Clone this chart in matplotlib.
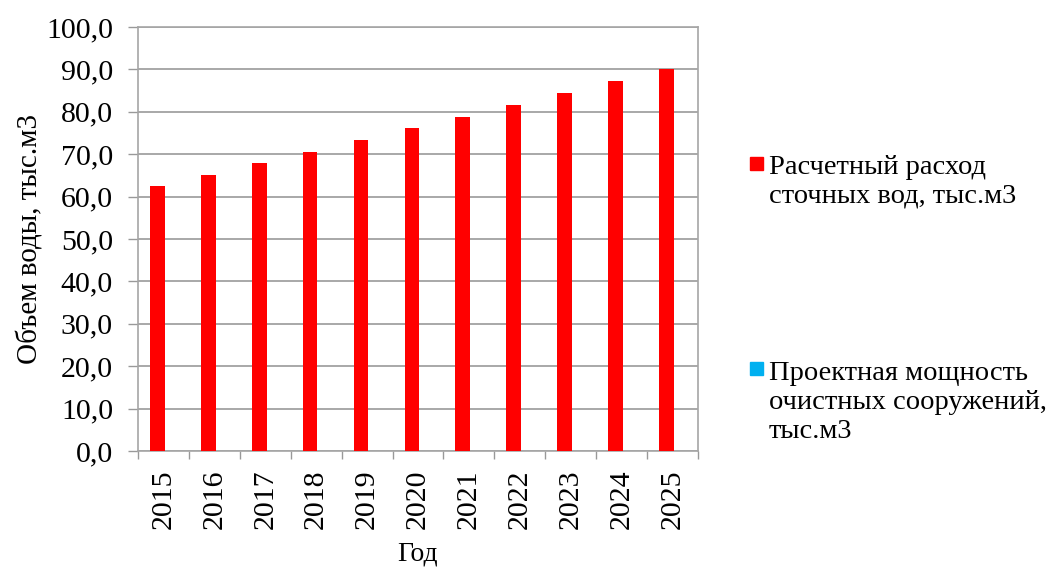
import matplotlib.pyplot as plt
from matplotlib.patches import Rectangle

years = ["2015", "2016", "2017", "2018", "2019", "2020",
         "2021", "2022", "2023", "2024", "2025"]
flow = [62.4, 65.2, 67.9, 70.6, 73.3, 76.1, 78.8, 81.6, 84.4, 87.2, 90.0]
capacity = [0] * len(years)  # второй ряд в исходнике пустой
legend_labels = ["Расчетный расход\nсточных вод, тыс.м3",
                 "Проектная мощность\nочистных сооружений,\nтыс.м3"]
colors = ["#FF0000", "#00B0F0"]

plt.rcParams['font.family'] = ['Liberation Serif', 'DejaVu Serif']

fig = plt.figure(figsize=(10.48, 5.67), dpi=100)
ax = fig.add_axes([138 / 1048, 116 / 567, 560 / 1048, 424 / 567])

x = list(range(len(years)))
w = 0.29
ax.bar([i - 0.12 for i in x], flow, width=w, color=colors[0], zorder=3)
ax.bar([i + 0.12 for i in x], capacity, width=w, color=colors[1], linewidth=0, zorder=3)

ax.set_xlim(-0.5, len(years) - 0.5)
ax.set_ylim(0, 100)
ax.set_yticks(range(0, 101, 10))
ax.set_yticklabels([f"{v},0" for v in range(0, 101, 10)])
ax.set_xticks(x)
ax.set_xticklabels(years, rotation=90)
ax.set_xticks([i - 0.5 for i in range(len(years) + 1)], minor=True)

ax.tick_params(axis='y', labelsize=21.5, length=7, width=1, color='#999999', pad=11)
ax.tick_params(axis='x', which='major', labelsize=21.5, length=0, pad=13)
ax.tick_params(axis='x', which='minor', length=6, width=1, color='#999999')

ax.grid(axis='y', color='#999999', linewidth=1.2, zorder=0)
for s in ax.spines.values():
    s.set_color('#A6A6A6')
    s.set_linewidth(1.2)

ax.set_ylabel("Объем воды, тыс.м3", fontsize=21, labelpad=2)
ax.set_xlabel("Год", fontsize=20, labelpad=9)

# legend drawn by hand (marker aligned to first line, like the original)
legend_y = [173, 378]
line_h = 30
for lab, col, yb in zip(legend_labels, colors, legend_y):
    fig.add_artist(Rectangle((750 / 1048, 1 - (yb - 3) / 567), 13 / 1048, 13 / 567,
                             transform=fig.transFigure, color=col))
    last_base = yb + lab.count("\n") * line_h
    fig.text(769 / 1048, 1 - last_base / 567, lab, fontsize=20.5,
             va='baseline', ha='left', linespacing=1.22)

fig.savefig("out.png", dpi=100)
